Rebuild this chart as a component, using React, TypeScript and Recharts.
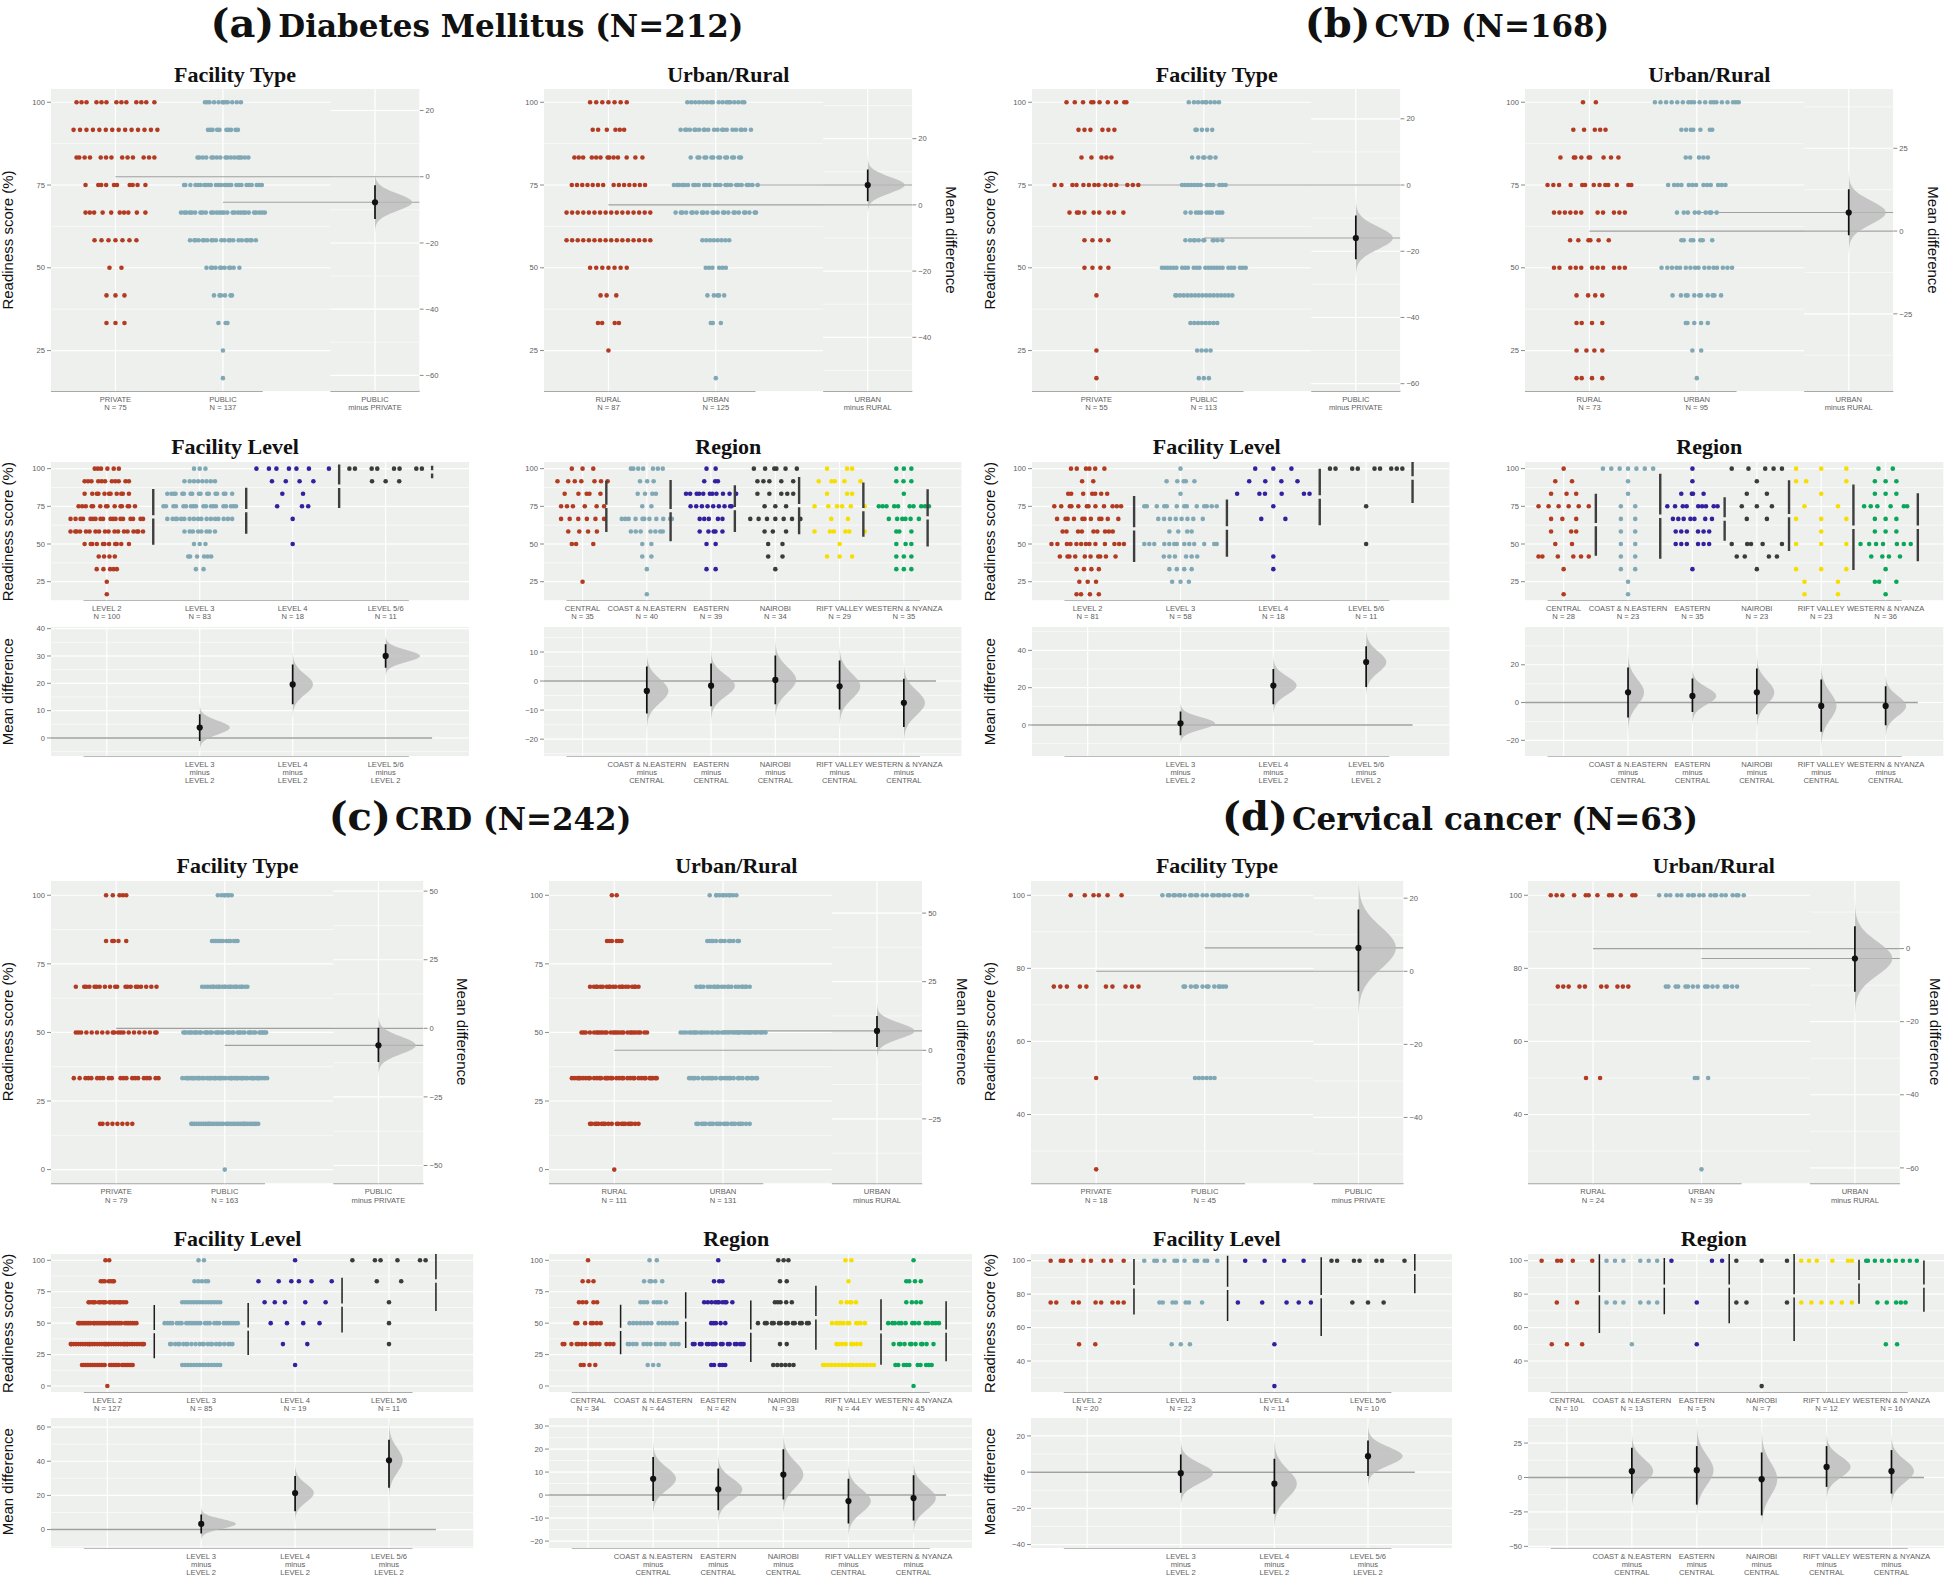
import React from 'react';
import { ComposedChart, Scatter, XAxis, YAxis, ReferenceLine } from 'recharts';

// ---------------- score levels & tick labels ----------------
const LEVELS_DM = [100, 91.67, 83.33, 75, 66.67, 58.33, 50, 41.67, 33.33, 25, 16.67];
const LEVELS_CRD = [100, 83.33, 66.67, 50, 33.33, 16.67, 0];
const LEVELS_CC = [100, 75, 50, 25];
const TICKS_DM = [25, 50, 75, 100];
const TICKS_CRD = [0, 25, 50, 75, 100];
const TICKS_CC = [40, 60, 80, 100];

const FT_GROUPS = ['PRIVATE', 'PUBLIC'];
const UR_GROUPS = ['RURAL', 'URBAN'];
const FL_GROUPS = ['LEVEL 2', 'LEVEL 3', 'LEVEL 4', 'LEVEL 5/6'];
const RG_GROUPS = ['CENTRAL', 'COAST & N.EASTERN', 'EASTERN', 'NAIROBI', 'RIFT VALLEY', 'WESTERN & NYANZA'];

// ---------------- (a) Diabetes Mellitus ----------------
const DM_FT_PRIVATE = [13, 14, 13, 10, 10, 7, 2, 3, 3, 0, 0];
const DM_FT_PUBLIC = [12, 10, 17, 26, 28, 22, 11, 6, 3, 1, 1];
const DM_FT_N = [75, 137];
const DM_FT_MEANS = [77.5, 69.8];
const DM_FT_CI = [-12.8, -2.6];
const DM_FT_RTICKS = [20, 0, -20, -40, -60];

const DM_UR_RURAL = [7, 6, 13, 14, 16, 16, 7, 3, 4, 1, 0];
const DM_UR_URBAN = [17, 21, 15, 25, 24, 8, 6, 5, 3, 0, 1];
const DM_UR_N = [87, 125];
const DM_UR_MEANS = [69.0, 75.0];
const DM_UR_CI = [1.1, 10.7];
const DM_UR_RTICKS = [20, 0, -20, -40];

const DM_FL_L2 = [6, 11, 11, 14, 18, 18, 11, 4, 5, 1, 1];
const DM_FL_L3 = [3, 8, 17, 19, 17, 8, 3, 6, 2, 0, 0];
const DM_FL_L4 = [7, 4, 2, 3, 1, 0, 1, 0, 0, 0, 0];
const DM_FL_L56 = [8, 3, 0, 0, 0, 0, 0, 0, 0, 0, 0];
const DM_FL_N = [100, 83, 18, 11];
const DM_FL_MEAN = [68.0, 72.1, 88.3, 97.8];
const DM_FL_SD = [18.5, 15.3, 14.4, 4.1];
const DM_FL_DIFF = [3.8, 19.6, 30.0];
const DM_FL_LO = [-1.1, 12.3, 25.7];
const DM_FL_HI = [8.7, 26.9, 34.3];

const DM_RG_CENTRAL = [3, 7, 5, 6, 6, 4, 3, 0, 0, 1, 0];
const DM_RG_COAST = [7, 3, 4, 2, 11, 7, 2, 2, 1, 0, 1];
const DM_RG_EASTERN = [2, 3, 11, 9, 5, 5, 2, 0, 2, 0, 0];
const DM_RG_NAIROBI = [6, 5, 5, 3, 7, 3, 2, 2, 1, 0, 0];
const DM_RG_RIFT = [3, 5, 3, 6, 2, 6, 1, 3, 0, 0, 0];
const DM_RG_WESTERN = [3, 3, 1, 10, 6, 3, 3, 3, 3, 0, 0];
const DM_RG_N = [35, 40, 39, 34, 29, 35];
const DM_RG_MEAN = [75.0, 72.1, 73.5, 75.5, 72.8, 67.3];
const DM_RG_SD = [17.0, 20.3, 15.5, 19.0, 18.0, 19.0];
const DM_RG_DIFF = [-3.4, -1.6, 0.4, -1.8, -7.5];
const DM_RG_LO = [-11.2, -8.7, -8.0, -9.8, -15.8];
const DM_RG_HI = [5.0, 6.0, 8.8, 7.1, 0.8];

// ---------------- (b) CVD ----------------
const CVD_FT_PRIVATE = [10, 6, 5, 14, 9, 4, 4, 1, 0, 1, 1];
const CVD_FT_PUBLIC = [9, 5, 7, 13, 11, 11, 25, 17, 8, 4, 3];
const CVD_FT_N = [55, 113];
const CVD_FT_MEANS = [75.0, 59.0];
const CVD_FT_CI = [-22.4, -9.2];
const CVD_FT_RTICKS = [20, 0, -20, -40, -60];

const CVD_UR_RURAL = [2, 5, 9, 13, 11, 6, 11, 4, 4, 4, 4];
const CVD_UR_URBAN = [19, 7, 5, 13, 9, 7, 16, 11, 5, 2, 1];
const CVD_UR_N = [73, 95];
const CVD_UR_MEANS = [61.1, 66.7];
const CVD_UR_CI = [-1.3, 12.6];
const CVD_UR_RTICKS = [25, 0, -25];

const CVD_FL_L2 = [6, 2, 7, 12, 11, 9, 13, 10, 4, 3, 4];
const CVD_FL_L3 = [1, 5, 1, 13, 8, 4, 13, 6, 4, 3, 0];
const CVD_FL_L4 = [3, 4, 6, 1, 2, 0, 0, 1, 1, 0, 0];
const CVD_FL_L56 = [9, 0, 0, 1, 0, 0, 1, 0, 0, 0, 0];
const CVD_FL_N = [81, 58, 18, 11];
const CVD_FL_MEAN = [60.0, 60.6, 81.2, 93.8];
const CVD_FL_SD = [21.9, 19.0, 18.8, 16.6];
const CVD_FL_DIFF = [0.9, 21.1, 33.7];
const CVD_FL_LO = [-5.5, 11.1, 20.4];
const CVD_FL_HI = [7.3, 30.0, 42.2];

const CVD_RG_CENTRAL = [1, 2, 3, 6, 3, 3, 2, 6, 1, 0, 1];
const CVD_RG_COAST = [7, 1, 1, 2, 2, 2, 2, 2, 2, 1, 1];
const CVD_RG_EASTERN = [1, 1, 4, 9, 7, 6, 6, 0, 1, 0, 0];
const CVD_RG_NAIROBI = [5, 1, 2, 3, 2, 0, 5, 4, 1, 0, 0];
const CVD_RG_RIFT = [3, 3, 1, 2, 3, 1, 3, 0, 3, 2, 2];
const CVD_RG_WESTERN = [2, 3, 3, 6, 3, 3, 7, 4, 1, 3, 1];
const CVD_RG_N = [28, 23, 35, 23, 23, 36];
const CVD_RG_MEAN = [62.8, 68.4, 66.6, 68.8, 61.1, 61.1];
const CVD_RG_SD = [20.6, 28.2, 14.4, 23.5, 28.4, 22.5];
const CVD_RG_DIFF = [5.4, 3.5, 5.4, -1.8, -1.8];
const CVD_RG_LO = [-7.9, -5.0, -6.2, -15.5, -12.0];
const CVD_RG_HI = [18.5, 12.7, 18.0, 12.2, 8.6];

// ---------------- (c) CRD ----------------
const CRD_FT_PRIVATE = [5, 5, 20, 20, 21, 8, 0];
const CRD_FT_PUBLIC = [7, 13, 23, 42, 43, 34, 1];
const CRD_FT_N = [79, 163];
const CRD_FT_MEANS = [51.5, 45.3];
const CRD_FT_CI = [-12.3, 0.2];
const CRD_FT_RTICKS = [50, 25, 0, -25, -50];

const CRD_UR_RURAL = [2, 6, 20, 27, 35, 20, 1];
const CRD_UR_URBAN = [11, 13, 22, 35, 28, 22, 0];
const CRD_UR_N = [111, 131];
const CRD_UR_MEANS = [43.5, 50.55];
const CRD_UR_CI = [1.2, 12.5];
const CRD_UR_RTICKS = [50, 25, 0, -25];

const CRD_FL_L2 = [2, 7, 20, 31, 39, 27, 1];
const CRD_FL_L3 = [2, 5, 14, 27, 23, 14, 0];
const CRD_FL_L4 = [1, 6, 5, 4, 2, 1, 0];
const CRD_FL_L56 = [6, 2, 1, 1, 1, 0, 0];
const CRD_FL_N = [127, 85, 19, 11];
const CRD_FL_MEAN = [43.2, 45.3, 64.4, 83.5];
const CRD_FL_SD = [21.2, 20.7, 21.8, 23.9];
const CRD_FL_DIFF = [3.3, 21.4, 40.5];
const CRD_FL_LO = [-2.3, 10.7, 24.4];
const CRD_FL_HI = [8.8, 31.3, 52.6];

const CRD_RG_CENTRAL = [1, 3, 5, 7, 14, 4, 0];
const CRD_RG_COAST = [2, 5, 7, 13, 14, 3, 0];
const CRD_RG_EASTERN = [1, 3, 10, 5, 18, 5, 0];
const CRD_RG_NAIROBI = [3, 2, 5, 15, 2, 6, 0];
const CRD_RG_RIFT = [2, 1, 5, 11, 8, 17, 0];
const CRD_RG_WESTERN = [1, 4, 4, 14, 11, 10, 1];
const CRD_RG_N = [34, 44, 42, 33, 44, 45];
const CRD_RG_MEAN = [45.0, 52.4, 43.6, 54.3, 43.0, 43.6];
const CRD_RG_SD = [19.7, 22.1, 24.5, 25.5, 26.0, 23.9];
const CRD_RG_DIFF = [7.1, 2.5, 8.9, -2.6, -1.3];
const CRD_RG_LO = [-2.6, -6.6, -1.9, -12.4, -11.0];
const CRD_RG_HI = [16.5, 11.5, 19.9, 7.1, 8.6];

// ---------------- (d) Cervical cancer ----------------
const CC_FT_PRIVATE = [6, 10, 1, 1];
const CC_FT_PUBLIC = [26, 13, 6, 0];
const CC_FT_N = [18, 45];
const CC_FT_MEANS = [79.2, 85.6];
const CC_FT_CI = [-5.5, 16.9];
const CC_FT_RTICKS = [20, 0, -20, -40];

const CC_UR_RURAL = [12, 10, 2, 0];
const CC_UR_URBAN = [19, 16, 3, 1];
const CC_UR_N = [24, 39];
const CC_UR_MEANS = [85.4, 82.7];
const CC_UR_CI = [-11.8, 6.1];
const CC_UR_RTICKS = [0, -20, -40, -60];

const CC_FL_L2 = [9, 9, 2, 0];
const CC_FL_L3 = [12, 7, 3, 0];
const CC_FL_L4 = [4, 5, 1, 1];
const CC_FL_L56 = [7, 3, 0, 0];
const CC_FL_N = [20, 22, 11, 10];
const CC_FL_MEAN = [84.4, 83.4, 78.5, 93.0];
const CC_FL_SD = [16.6, 19.5, 23.5, 12.4];
const CC_FL_DIFF = [-0.6, -6.4, 8.8];
const CC_FL_LO = [-11.4, -23.0, -2.2];
const CC_FL_HI = [9.8, 7.4, 17.5];

const CC_RG_CENTRAL = [5, 2, 3, 0];
const CC_RG_COAST = [6, 6, 1, 0];
const CC_RG_EASTERN = [3, 1, 1, 0];
const CC_RG_NAIROBI = [3, 3, 0, 1];
const CC_RG_RIFT = [6, 6, 0, 0];
const CC_RG_WESTERN = [9, 5, 2, 0];
const CC_RG_N = [10, 13, 5, 7, 12, 16];
const CC_RG_MEAN = [80.3, 84.8, 84.8, 79.0, 87.4, 84.8];
const CC_RG_SD = [23.5, 16.8, 22.2, 27.0, 13.2, 15.3];
const CC_RG_DIFF = [4.6, 5.3, -1.2, 7.7, 4.6];
const CC_RG_LO = [-11.7, -19.7, -27.5, -6.8, -11.7];
const CC_RG_HI = [21.6, 22.8, 18.2, 22.8, 19.9];

// ---------------- styles ----------------
const BG = '#EEF0EE';
const GRID = '#FFFFFF';
const AXIS = '#A5A5A5';
const TICK_TXT = '#5E5E5E';
const MEANLINE = '#A0A0A0';
const VIOLIN = '#B8B8B8';
const PALETTE = ['#B33B22', '#80A8B5', '#33209F', '#3B3B3B', '#F6DE00', '#0AA65A'];
const AXIS_W = 40;
const TOP_PAD = 8;
const SWARM_W = 0.78;
const SANS = '"Liberation Sans", Arial, Helvetica, sans-serif';

// ---------------- helpers ----------------
function Empty() {
  return null;
}

function PathLine(props: any) {
  const { points, color, sw, closed, fillColor, op } = props;
  if (!points || points.length < 2) return null;
  const d = points.map((p: any, i: number) => `${i ? 'L' : 'M'}${p.x},${p.y}`).join(' ') + (closed ? ' Z' : '');
  return (
    <path
      d={d}
      fill={closed ? fillColor : 'none'}
      fillOpacity={op == null ? 1 : op}
      stroke={closed ? 'none' : color}
      strokeWidth={closed ? 0 : sw}
    />
  );
}

function Dot(props: any) {
  const { cx, cy, color, rad } = props;
  if (cx == null || cy == null) return null;
  return <circle cx={cx} cy={cy} r={rad} fill={color} />;
}

function pathSeries(key: string, pts: any[], yAxisId: string, look: any) {
  return (
    <Scatter
      key={key}
      data={pts}
      yAxisId={yAxisId}
      isAnimationActive={false}
      shape={<Empty />}
      line={<PathLine {...look} />}
    />
  );
}

function dotSeries(key: string, pts: any[], yAxisId: string, color: string, rad: number) {
  return (
    <Scatter key={key} data={pts} yAxisId={yAxisId} isAnimationActive={false} shape={<Dot color={color} rad={rad} />} />
  );
}

function minorTicks(ticks: number[], dom: number[]) {
  const s = [...ticks].sort((a, b) => a - b);
  const step = s.length > 1 ? s[1] - s[0] : 10;
  const out: number[] = [];
  for (let v = s[0] - step / 2; v <= s[s.length - 1] + step / 2 + 1e-9; v += step) {
    if (v > dom[0] && v < dom[1]) out.push(v);
  }
  return out;
}

// van der Corput sequence (base 2), as used by quasirandom beeswarm offsets
function vdc(k: number) {
  let v = 0;
  let denom = 1;
  let q = k;
  while (q > 0) {
    denom *= 2;
    v += (q % 2) / denom;
    q = Math.floor(q / 2);
  }
  return v;
}

function swarmPoints(counts: number[], levels: number[], cx: number) {
  const M = Math.max(...counts);
  const pts: any[] = [];
  let rank = 1;
  for (let li = counts.length - 1; li >= 0; li--) {
    const n = counts[li];
    if (!n) continue;
    const w = (SWARM_W * n) / M;
    if (n === 1) {
      pts.push({ x: cx, y: levels[li] });
      rank += 1;
      continue;
    }
    const offs: number[] = [];
    for (let k = 0; k < n; k++) offs.push(vdc(rank + k));
    rank += n;
    const lo = Math.min(...offs);
    const hi = Math.max(...offs);
    offs.forEach((o) => {
      const u = hi > lo ? (o - lo) / (hi - lo) - 0.5 : 0;
      pts.push({ x: cx + u * w, y: levels[li] });
    });
  }
  return pts;
}

function violinPoints(cx: number, m: number, sd: number, peak: number) {
  const pts: any[] = [{ x: cx, y: m - 4 * sd }];
  for (let i = 0; i <= 64; i++) {
    const t = -4 + (8 * i) / 64;
    pts.push({ x: cx + peak * Math.exp(-0.5 * t * t), y: m + t * sd });
  }
  pts.push({ x: cx, y: m + 4 * sd });
  return pts;
}

function fmtNum(v: number) {
  return v < 0 ? `\u2212${Math.abs(v)}` : `${v}`;
}

function makeTick(ticks: number[], labels: string[][], dys: number[]) {
  return (p: any) => {
    const v = p.payload ? p.payload.value : 0;
    let idx = 0;
    let best = Infinity;
    ticks.forEach((t, i) => {
      const d = Math.abs(t - v);
      if (d < best) {
        best = d;
        idx = i;
      }
    });
    const lines = labels[idx] || [];
    return (
      <text x={p.x} y={p.y} textAnchor="middle" fontSize={7.6} fill={TICK_TXT}>
        {lines.map((l, i) => (
          <tspan key={i} x={p.x} dy={dys[i]}>
            {l}
          </tspan>
        ))}
      </text>
    );
  };
}

function gridSeries(prefix: string, ticks: number[], dom: number[], xa: number, xb: number, yAxisId: string) {
  const out: any[] = [];
  minorTicks(ticks, dom).forEach((v, i) =>
    out.push(pathSeries(`${prefix}m${i}`, [{ x: xa, y: v }, { x: xb, y: v }], yAxisId, { color: GRID, sw: 0.55 }))
  );
  ticks.forEach((v, i) =>
    out.push(pathSeries(`${prefix}M${i}`, [{ x: xa, y: v }, { x: xb, y: v }], yAxisId, { color: GRID, sw: 1.15 }))
  );
  return out;
}

function bgSeries(key: string, x0: number, x1: number, dom: number[], yAxisId: string) {
  return pathSeries(
    key,
    [
      { x: x0, y: dom[0] },
      { x: x1, y: dom[0] },
      { x: x1, y: dom[1] },
      { x: x0, y: dom[1] },
    ],
    yAxisId,
    { closed: true, fillColor: BG }
  );
}

const yTickStyle = { fontSize: 7.6, fill: TICK_TXT };
const MARGIN = { top: TOP_PAD, right: 0, bottom: 0, left: 0 };

// ---------------- Gardner-Altman (two groups) ----------------
const GA_X0 = 0.4;
const GA_XS = 3.0;
const GA_X1 = 3.83;
const GA_XD = 3.415;

function GAChart({ s }: { s: any }) {
  const { L, R, T, B } = s.box;
  const XH = 30;
  const width = R - L + 2 * AXIS_W;
  const height = B - T + XH + TOP_PAD;
  const dom = s.yDomain;
  const cm = s.means[0];
  const diff = s.means[1] - s.means[0];
  const rDom = [dom[0] - cm, dom[1] - cm];
  const sd = (s.ci[1] - s.ci[0]) / 3.92;
  const items: any[] = [];
  items.push(bgSeries('bg', GA_X0, GA_X1, dom, 'l'));
  items.push(...gridSeries('gl', s.yTicks, dom, GA_X0, GA_XS, 'l'));
  items.push(...gridSeries('gr', s.rTicks, rDom, GA_XS, GA_X1, 'r'));
  [1, 2].forEach((x) =>
    items.push(pathSeries(`vg${x}`, [{ x, y: dom[0] }, { x, y: dom[1] }], 'l', { color: GRID, sw: 1.15 }))
  );
  items.push(pathSeries('vgd', [{ x: GA_XD, y: dom[0] }, { x: GA_XD, y: dom[1] }], 'l', { color: GRID, sw: 1.15 }));
  items.push(pathSeries('m0', [{ x: 1, y: cm }, { x: GA_X1, y: cm }], 'l', { color: MEANLINE, sw: 1.2 }));
  items.push(pathSeries('m1', [{ x: 2, y: cm + diff }, { x: GA_X1, y: cm + diff }], 'l', { color: MEANLINE, sw: 1.2 }));
  s.counts.forEach((c: number[], gi: number) =>
    items.push(dotSeries(`d${gi}`, swarmPoints(c, s.levels, gi + 1), 'l', PALETTE[gi], 2.3))
  );
  items.push(
    pathSeries('vio', violinPoints(GA_XD, diff, sd, 0.345), 'r', { closed: true, fillColor: VIOLIN, op: 0.78 })
  );
  items.push(pathSeries('ci', [{ x: GA_XD, y: s.ci[0] }, { x: GA_XD, y: s.ci[1] }], 'r', { color: '#111', sw: 1.7 }));
  items.push(dotSeries('md', [{ x: GA_XD, y: diff }], 'r', '#111', 3.1));

  const xt = [1, 2, GA_XD];
  const xl = [
    [s.groups[0], `N = ${s.ns[0]}`],
    [s.groups[1], `N = ${s.ns[1]}`],
    [s.groups[1], `minus ${s.groups[0]}`],
  ];
  return (
    <div style={{ position: 'absolute', left: L - AXIS_W, top: T - TOP_PAD }}>
      <ComposedChart width={width} height={height} margin={MARGIN}>
        <XAxis
          type="number"
          dataKey="x"
          domain={[GA_X0, GA_X1]}
          allowDataOverflow
          ticks={xt}
          interval={0}
          tickLine={false}
          axisLine={false}
          tickSize={0}
          tickMargin={0}
          height={XH}
          tick={makeTick(xt, xl, [10.8, 8.4])}
        />
        <YAxis
          yAxisId="l"
          type="number"
          dataKey="y"
          domain={dom}
          allowDataOverflow
          ticks={s.yTicks}
          interval={0}
          width={AXIS_W}
          axisLine={false}
          tickSize={4}
          tickMargin={2}
          tickLine={{ stroke: '#8A8A8A' }}
          tick={yTickStyle}
        />
        <YAxis
          yAxisId="r"
          orientation="right"
          type="number"
          dataKey="y"
          domain={rDom}
          allowDataOverflow
          ticks={s.rTicks}
          interval={0}
          width={AXIS_W}
          axisLine={false}
          tickSize={4}
          tickMargin={2}
          tickLine={{ stroke: '#8A8A8A' }}
          tick={yTickStyle}
          tickFormatter={fmtNum}
        />
        {items}
        <ReferenceLine
          yAxisId="l"
          segment={[{ x: GA_X0, y: dom[0] }, { x: 2.37, y: dom[0] }]}
          stroke={AXIS}
          strokeWidth={1.4}
          ifOverflow="visible"
        />
        <ReferenceLine
          yAxisId="l"
          segment={[{ x: GA_XS, y: dom[0] }, { x: GA_X1, y: dom[0] }]}
          stroke={AXIS}
          strokeWidth={1.4}
          ifOverflow="visible"
        />
      </ComposedChart>
    </div>
  );
}

// ---------------- Cumming (multi-group) ----------------
function CummingChart({ s }: { s: any }) {
  const { L, R, T, B, T2, B2 } = s.box;
  const n = s.groups.length;
  const X0 = 0.4;
  const X1 = n + 0.9;
  const width = R - L + AXIS_W;
  const XH1 = 26;
  const XH2 = 36;
  const dom = s.yDomain;
  const dd = s.dDomain;
  const centers = s.groups.map((_: string, i: number) => i + 1);

  const top: any[] = [];
  top.push(bgSeries('bg', X0, X1, dom, 'l'));
  top.push(...gridSeries('g', s.yTicks, dom, X0, X1, 'l'));
  centers.forEach((x: number) =>
    top.push(pathSeries(`vg${x}`, [{ x, y: dom[0] }, { x, y: dom[1] }], 'l', { color: GRID, sw: 1.15 }))
  );
  s.counts.forEach((c: number[], gi: number) =>
    top.push(dotSeries(`d${gi}`, swarmPoints(c, s.levels, gi + 1), 'l', PALETTE[gi], 2.3))
  );
  const gap = 0.012 * (dom[1] - dom[0]);
  s.mean.forEach((m: number, gi: number) => {
    const x = gi + 1 + s.gapOffset;
    const sd = s.sd[gi];
    top.push(pathSeries(`gb${gi}a`, [{ x, y: m - sd }, { x, y: m - gap }], 'l', { color: s.barColor, sw: s.barW }));
    top.push(pathSeries(`gb${gi}b`, [{ x, y: m + gap }, { x, y: m + sd }], 'l', { color: s.barColor, sw: s.barW }));
  });

  const sds = s.diff.map((_: number, k: number) => (s.hi[k] - s.lo[k]) / 3.92);
  const minSd = Math.min(...sds);
  const bot: any[] = [];
  bot.push(bgSeries('bg', X0, X1, dd, 'l'));
  bot.push(...gridSeries('g', s.dTicks, dd, X0, X1, 'l'));
  centers.forEach((x: number) =>
    bot.push(pathSeries(`vg${x}`, [{ x, y: dd[0] }, { x, y: dd[1] }], 'l', { color: GRID, sw: 1.15 }))
  );
  bot.push(pathSeries('zero', [{ x: X0, y: 0 }, { x: n + 0.5, y: 0 }], 'l', { color: MEANLINE, sw: 1.5 }));
  s.diff.forEach((m: number, k: number) => {
    const x = k + 2;
    bot.push(
      pathSeries(`vio${k}`, violinPoints(x, m, sds[k], (0.37 * minSd) / sds[k]), 'l', {
        closed: true,
        fillColor: VIOLIN,
        op: 0.78,
      })
    );
  });
  s.diff.forEach((m: number, k: number) => {
    const x = k + 2;
    bot.push(pathSeries(`ci${k}`, [{ x, y: s.lo[k] }, { x, y: s.hi[k] }], 'l', { color: '#111', sw: 1.7 }));
    bot.push(dotSeries(`md${k}`, [{ x, y: m }], 'l', '#111', 3.1));
  });

  const topLabels = s.groups.map((g: string, i: number) => [g, `N = ${s.ns[i]}`]);
  const botTicks = centers.slice(1);
  const botLabels = s.groups.slice(1).map((g: string) => [g, 'minus', s.groups[0]]);

  return (
    <>
      <div style={{ position: 'absolute', left: L - AXIS_W, top: T - TOP_PAD }}>
        <ComposedChart width={width} height={B - T + XH1 + TOP_PAD} margin={MARGIN}>
          <XAxis
            type="number"
            dataKey="x"
            domain={[X0, X1]}
            allowDataOverflow
            ticks={centers}
            interval={0}
            tickLine={false}
            axisLine={false}
            tickSize={0}
            tickMargin={0}
            height={XH1}
            tick={makeTick(centers, topLabels, [10.6, 8.4])}
          />
          <YAxis
            yAxisId="l"
            type="number"
            dataKey="y"
            domain={dom}
            allowDataOverflow
            ticks={s.yTicks}
            interval={0}
            width={AXIS_W}
            axisLine={false}
            tickSize={4}
            tickMargin={2}
            tickLine={{ stroke: '#8A8A8A' }}
            tick={yTickStyle}
          />
          {top}
          <ReferenceLine
            yAxisId="l"
            segment={[{ x: 0.75, y: dom[0] }, { x: n + 0.25, y: dom[0] }]}
            stroke={AXIS}
            strokeWidth={1.4}
            ifOverflow="visible"
          />
        </ComposedChart>
      </div>
      <div style={{ position: 'absolute', left: L - AXIS_W, top: T2 - TOP_PAD }}>
        <ComposedChart width={width} height={B2 - T2 + XH2 + TOP_PAD} margin={MARGIN}>
          <XAxis
            type="number"
            dataKey="x"
            domain={[X0, X1]}
            allowDataOverflow
            ticks={botTicks}
            interval={0}
            tickLine={false}
            axisLine={false}
            tickSize={0}
            tickMargin={0}
            height={XH2}
            tick={makeTick(botTicks, botLabels, [11, 8.2, 8.2])}
          />
          <YAxis
            yAxisId="l"
            type="number"
            dataKey="y"
            domain={dd}
            allowDataOverflow
            ticks={s.dTicks}
            interval={0}
            width={AXIS_W}
            axisLine={false}
            tickSize={4}
            tickMargin={2}
            tickLine={{ stroke: '#8A8A8A' }}
            tick={yTickStyle}
            tickFormatter={fmtNum}
          />
          {bot}
          <ReferenceLine
            yAxisId="l"
            segment={[{ x: 0.75, y: dd[0] }, { x: n + 0.25, y: dd[0] }]}
            stroke={AXIS}
            strokeWidth={1.4}
            ifOverflow="visible"
          />
        </ComposedChart>
      </div>
    </>
  );
}

// ---------------- chart specs ----------------
const ROW1 = { T: 89.3, B: 391.6 };
const ROW2 = { T: 462.3, B: 600.7, T2: 626.7, B2: 755.7 };
const ROW3 = { T: 880.7, B: 1183.3 };
const ROW4 = { T: 1254, B: 1392.3, T2: 1417.7, B2: 1547.7 };

const GA_SPECS = [
  { key: 'aFT', box: { L: 50.7, R: 419.3, ...ROW1 }, groups: FT_GROUPS, ns: DM_FT_N, counts: [DM_FT_PRIVATE, DM_FT_PUBLIC], levels: LEVELS_DM, means: DM_FT_MEANS, ci: DM_FT_CI, yDomain: [12.7, 104], yTicks: TICKS_DM, rTicks: DM_FT_RTICKS },
  { key: 'aUR', box: { L: 544, R: 912.3, ...ROW1 }, groups: UR_GROUPS, ns: DM_UR_N, counts: [DM_UR_RURAL, DM_UR_URBAN], levels: LEVELS_DM, means: DM_UR_MEANS, ci: DM_UR_CI, yDomain: [12.7, 104], yTicks: TICKS_DM, rTicks: DM_UR_RTICKS },
  { key: 'bFT', box: { L: 1032.3, R: 1400.7, ...ROW1 }, groups: FT_GROUPS, ns: CVD_FT_N, counts: [CVD_FT_PRIVATE, CVD_FT_PUBLIC], levels: LEVELS_DM, means: CVD_FT_MEANS, ci: CVD_FT_CI, yDomain: [12.7, 104], yTicks: TICKS_DM, rTicks: CVD_FT_RTICKS },
  { key: 'bUR', box: { L: 1525, R: 1893.3, ...ROW1 }, groups: UR_GROUPS, ns: CVD_UR_N, counts: [CVD_UR_RURAL, CVD_UR_URBAN], levels: LEVELS_DM, means: CVD_UR_MEANS, ci: CVD_UR_CI, yDomain: [12.7, 104], yTicks: TICKS_DM, rTicks: CVD_UR_RTICKS },
  { key: 'cFT', box: { L: 51.25, R: 423.75, ...ROW3 }, groups: FT_GROUPS, ns: CRD_FT_N, counts: [CRD_FT_PRIVATE, CRD_FT_PUBLIC], levels: LEVELS_CRD, means: CRD_FT_MEANS, ci: CRD_FT_CI, yDomain: [-5.1, 105.2], yTicks: TICKS_CRD, rTicks: CRD_FT_RTICKS },
  { key: 'cUR', box: { L: 548.75, R: 921.9, ...ROW3 }, groups: UR_GROUPS, ns: CRD_UR_N, counts: [CRD_UR_RURAL, CRD_UR_URBAN], levels: LEVELS_CRD, means: CRD_UR_MEANS, ci: CRD_UR_CI, yDomain: [-5.1, 105.2], yTicks: TICKS_CRD, rTicks: CRD_UR_RTICKS },
  { key: 'dFT', box: { L: 1031.25, R: 1403.75, ...ROW3 }, groups: FT_GROUPS, ns: CC_FT_N, counts: [CC_FT_PRIVATE, CC_FT_PUBLIC], levels: LEVELS_CC, means: CC_FT_MEANS, ci: CC_FT_CI, yDomain: [21.1, 103.9], yTicks: TICKS_CC, rTicks: CC_FT_RTICKS },
  { key: 'dUR', box: { L: 1528.1, R: 1900, ...ROW3 }, groups: UR_GROUPS, ns: CC_UR_N, counts: [CC_UR_RURAL, CC_UR_URBAN], levels: LEVELS_CC, means: CC_UR_MEANS, ci: CC_UR_CI, yDomain: [21.1, 103.9], yTicks: TICKS_CC, rTicks: CC_UR_RTICKS },
];

const BAR_AB = { barColor: '#3E3E3E', barW: 2.4 };
const BAR_CD = { barColor: '#1E1E1E', barW: 1.5 };

const CUM_SPECS = [
  { key: 'aFL', box: { L: 50.7, R: 469, ...ROW2 }, groups: FL_GROUPS, ns: DM_FL_N, counts: [DM_FL_L2, DM_FL_L3, DM_FL_L4, DM_FL_L56], levels: LEVELS_DM, mean: DM_FL_MEAN, sd: DM_FL_SD, diff: DM_FL_DIFF, lo: DM_FL_LO, hi: DM_FL_HI, yDomain: [12.6, 104.4], yTicks: TICKS_DM, dDomain: [-6.6, 40.6], dTicks: [0, 10, 20, 30, 40], gapOffset: 0.5, ...BAR_AB },
  { key: 'aRG', box: { L: 544, R: 961.7, ...ROW2 }, groups: RG_GROUPS, ns: DM_RG_N, counts: [DM_RG_CENTRAL, DM_RG_COAST, DM_RG_EASTERN, DM_RG_NAIROBI, DM_RG_RIFT, DM_RG_WESTERN], levels: LEVELS_DM, mean: DM_RG_MEAN, sd: DM_RG_SD, diff: DM_RG_DIFF, lo: DM_RG_LO, hi: DM_RG_HI, yDomain: [12.6, 104.4], yTicks: TICKS_DM, dDomain: [-25.8, 18.6], dTicks: [-20, -10, 0, 10], gapOffset: 0.37, ...BAR_AB },
  { key: 'bFL', box: { L: 1032.3, R: 1450, ...ROW2 }, groups: FL_GROUPS, ns: CVD_FL_N, counts: [CVD_FL_L2, CVD_FL_L3, CVD_FL_L4, CVD_FL_L56], levels: LEVELS_DM, mean: CVD_FL_MEAN, sd: CVD_FL_SD, diff: CVD_FL_DIFF, lo: CVD_FL_LO, hi: CVD_FL_HI, yDomain: [12.6, 104.4], yTicks: TICKS_DM, dDomain: [-16.6, 52.5], dTicks: [0, 20, 40], gapOffset: 0.5, ...BAR_AB },
  { key: 'bRG', box: { L: 1525, R: 1943.6, ...ROW2 }, groups: RG_GROUPS, ns: CVD_RG_N, counts: [CVD_RG_CENTRAL, CVD_RG_COAST, CVD_RG_EASTERN, CVD_RG_NAIROBI, CVD_RG_RIFT, CVD_RG_WESTERN], levels: LEVELS_DM, mean: CVD_RG_MEAN, sd: CVD_RG_SD, diff: CVD_RG_DIFF, lo: CVD_RG_LO, hi: CVD_RG_HI, yDomain: [12.6, 104.4], yTicks: TICKS_DM, dDomain: [-28.3, 40], dTicks: [-20, 0, 20], gapOffset: 0.5, ...BAR_AB },
  { key: 'cFL', box: { L: 51.25, R: 473.75, ...ROW4 }, groups: FL_GROUPS, ns: CRD_FL_N, counts: [CRD_FL_L2, CRD_FL_L3, CRD_FL_L4, CRD_FL_L56], levels: LEVELS_CRD, mean: CRD_FL_MEAN, sd: CRD_FL_SD, diff: CRD_FL_DIFF, lo: CRD_FL_LO, hi: CRD_FL_HI, yDomain: [-5, 105], yTicks: TICKS_CRD, dDomain: [-10.8, 65.3], dTicks: [0, 20, 40, 60], gapOffset: 0.5, ...BAR_CD },
  { key: 'cRG', box: { L: 548.75, R: 971.9, ...ROW4 }, groups: RG_GROUPS, ns: CRD_RG_N, counts: [CRD_RG_CENTRAL, CRD_RG_COAST, CRD_RG_EASTERN, CRD_RG_NAIROBI, CRD_RG_RIFT, CRD_RG_WESTERN], levels: LEVELS_CRD, mean: CRD_RG_MEAN, sd: CRD_RG_SD, diff: CRD_RG_DIFF, lo: CRD_RG_LO, hi: CRD_RG_HI, yDomain: [-5, 105], yTicks: TICKS_CRD, dDomain: [-23, 33.5], dTicks: [-20, -10, 0, 10, 20, 30], gapOffset: 0.5, ...BAR_CD },
  { key: 'dFL', box: { L: 1031.25, R: 1452.5, ...ROW4 }, groups: FL_GROUPS, ns: CC_FL_N, counts: [CC_FL_L2, CC_FL_L3, CC_FL_L4, CC_FL_L56], levels: LEVELS_CC, mean: CC_FL_MEAN, sd: CC_FL_SD, diff: CC_FL_DIFF, lo: CC_FL_LO, hi: CC_FL_HI, yDomain: [21.3, 104], yTicks: TICKS_CC, dDomain: [-41.9, 29.9], dTicks: [-40, -20, 0, 20], gapOffset: 0.5, ...BAR_CD },
  { key: 'dRG', box: { L: 1528.1, R: 1950, ...ROW4 }, groups: RG_GROUPS, ns: CC_RG_N, counts: [CC_RG_CENTRAL, CC_RG_COAST, CC_RG_EASTERN, CC_RG_NAIROBI, CC_RG_RIFT, CC_RG_WESTERN], levels: LEVELS_CC, mean: CC_RG_MEAN, sd: CC_RG_SD, diff: CC_RG_DIFF, lo: CC_RG_LO, hi: CC_RG_HI, yDomain: [21.3, 104], yTicks: TICKS_CC, dDomain: [-51.2, 43.2], dTicks: [-50, -25, 0, 25], gapOffset: 0.5, ...BAR_CD },
];

// ---------------- titles & axis titles ----------------
const PANEL_TITLES = [
  { tag: '(a)', text: 'Diabetes Mellitus (N=212)', x: 477, y: 37 },
  { tag: '(b)', text: 'CVD (N=168)', x: 1457, y: 37 },
  { tag: '(c)', text: 'CRD (N=242)', x: 480, y: 830 },
  { tag: '(d)', text: 'Cervical cancer (N=63)', x: 1460, y: 830 },
];
const SUB_TITLES = [
  { t: 'Facility Type', x: 235, y: 81.5 },
  { t: 'Urban/Rural', x: 728.3, y: 81.5 },
  { t: 'Facility Type', x: 1216.7, y: 81.5 },
  { t: 'Urban/Rural', x: 1709.3, y: 81.5 },
  { t: 'Facility Level', x: 235, y: 454 },
  { t: 'Region', x: 728.3, y: 454 },
  { t: 'Facility Level', x: 1216.7, y: 454 },
  { t: 'Region', x: 1709.3, y: 454 },
  { t: 'Facility Type', x: 237.5, y: 873.3 },
  { t: 'Urban/Rural', x: 736.3, y: 873.3 },
  { t: 'Facility Type', x: 1216.9, y: 873.3 },
  { t: 'Urban/Rural', x: 1713.8, y: 873.3 },
  { t: 'Facility Level', x: 237.5, y: 1245.7 },
  { t: 'Region', x: 736.3, y: 1245.7 },
  { t: 'Facility Level', x: 1216.9, y: 1245.7 },
  { t: 'Region', x: 1713.8, y: 1245.7 },
];
const AXIS_TITLES = [
  { t: 'Readiness score (%)', x: 7.5, y: 240, r: -90 },
  { t: 'Readiness score (%)', x: 989, y: 240, r: -90 },
  { t: 'Readiness score (%)', x: 7.5, y: 1031.7, r: -90 },
  { t: 'Readiness score (%)', x: 989, y: 1031.7, r: -90 },
  { t: 'Readiness score (%)', x: 7.5, y: 531.7, r: -90 },
  { t: 'Readiness score (%)', x: 989, y: 531.7, r: -90 },
  { t: 'Readiness score (%)', x: 7.5, y: 1323.3, r: -90 },
  { t: 'Readiness score (%)', x: 989, y: 1323.3, r: -90 },
  { t: 'Mean difference', x: 7.5, y: 691.7, r: -90 },
  { t: 'Mean difference', x: 989, y: 691.7, r: -90 },
  { t: 'Mean difference', x: 7.5, y: 1481.7, r: -90 },
  { t: 'Mean difference', x: 989, y: 1481.7, r: -90 },
  { t: 'Mean difference', x: 951.7, y: 240, r: 90 },
  { t: 'Mean difference', x: 1933.3, y: 240, r: 90 },
  { t: 'Mean difference', x: 462.5, y: 1031.7, r: 90 },
  { t: 'Mean difference', x: 962.5, y: 1031.7, r: 90 },
  { t: 'Mean difference', x: 1935.6, y: 1031.7, r: 90 },
];

function Overlay() {
  return (
    <svg
      width={1944}
      height={1577}
      style={{ position: 'absolute', left: 0, top: 0, pointerEvents: 'none' }}
    >
      {PANEL_TITLES.map((p, i) => (
        <text key={`p${i}`} x={p.x} y={p.y} textAnchor="middle" fontFamily='"DejaVu Serif", serif' fontWeight="bold" fill="#111">
          <tspan fontSize={40}>{p.tag}</tspan>
          <tspan fontSize={31} dx={4}>
            {p.text}
          </tspan>
        </text>
      ))}
      {SUB_TITLES.map((p, i) => (
        <text key={`s${i}`} x={p.x} y={p.y} textAnchor="middle" fontFamily='"Liberation Serif", "Times New Roman", serif' fontWeight="bold" fontSize={22} fill="#111">
          {p.t}
        </text>
      ))}
      {AXIS_TITLES.map((p, i) => (
        <text
          key={`a${i}`}
          transform={`translate(${p.x},${p.y}) rotate(${p.r})`}
          textAnchor="middle"
          dominantBaseline="central"
          fontFamily={SANS}
          fontSize={15}
          fill="#111"
        >
          {p.t}
        </text>
      ))}
    </svg>
  );
}

export default function App() {
  return (
    <div
      style={{
        position: 'absolute',
        left: 0,
        top: 0,
        width: 1944,
        height: 1577,
        overflow: 'hidden',
        background: '#FFFFFF',
        fontFamily: SANS,
      }}
    >
      {GA_SPECS.map((s) => (
        <GAChart key={s.key} s={s} />
      ))}
      {CUM_SPECS.map((s) => (
        <CummingChart key={s.key} s={s} />
      ))}
      <Overlay />
    </div>
  );
}
